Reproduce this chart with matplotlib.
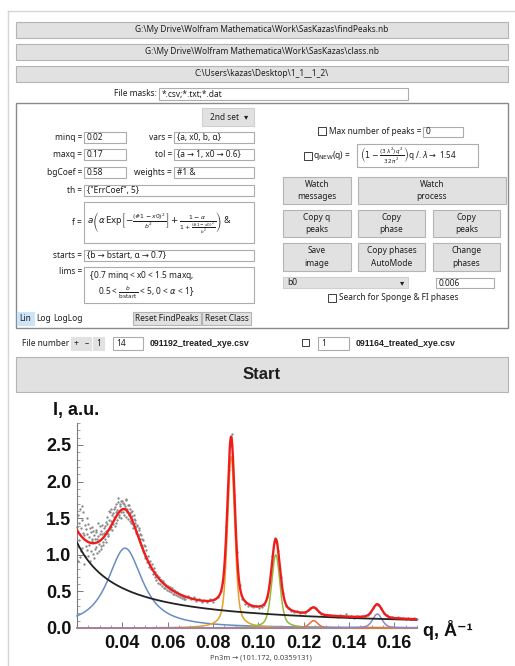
import numpy as np
import matplotlib
matplotlib.use('Agg')
import matplotlib.pyplot as plt
from matplotlib.patches import Rectangle
from matplotlib.ticker import MultipleLocator, FixedLocator

plt.rcParams['mathtext.fontset'] = 'dejavusans'

# ---------------- data ----------------
q_main = [
    0.0202, 0.0206, 0.0210, 0.0214, 0.0218, 0.0222, 0.0226, 0.0230, 0.0234, 0.0238,
    0.0242, 0.0246, 0.0250, 0.0254, 0.0258, 0.0262, 0.0266, 0.0270, 0.0274, 0.0278,
    0.0282, 0.0286, 0.0290, 0.0294, 0.0298, 0.0302, 0.0306, 0.0310, 0.0314, 0.0318,
    0.0322, 0.0326, 0.0330, 0.0334, 0.0338, 0.0342, 0.0346, 0.0350, 0.0354, 0.0358,
    0.0362, 0.0366, 0.0370, 0.0374, 0.0378, 0.0382, 0.0386, 0.0390, 0.0394, 0.0398,
    0.0402, 0.0406, 0.0410, 0.0414, 0.0418, 0.0422, 0.0426, 0.0430, 0.0434, 0.0438,
    0.0442, 0.0446, 0.0450, 0.0454, 0.0458, 0.0462, 0.0466, 0.0470, 0.0474, 0.0478,
    0.0482, 0.0486, 0.0490, 0.0494, 0.0498, 0.0502, 0.0506, 0.0510, 0.0514, 0.0518,
    0.0522, 0.0526, 0.0530, 0.0534, 0.0538, 0.0542, 0.0546, 0.0550, 0.0554, 0.0558,
    0.0562, 0.0566, 0.0570, 0.0574, 0.0578, 0.0582, 0.0586, 0.0590, 0.0594, 0.0598,
    0.0602, 0.0606, 0.0610, 0.0614, 0.0618, 0.0622, 0.0626, 0.0630, 0.0634, 0.0638,
    0.0642, 0.0646, 0.0650, 0.0654, 0.0658, 0.0662, 0.0666, 0.0670, 0.0674, 0.0678,
    0.0690, 0.0702, 0.0714, 0.0726, 0.0738, 0.0750, 0.0762, 0.0774, 0.0786, 0.0798,
    0.0810, 0.0822, 0.0834, 0.0846, 0.0858, 0.0870, 0.0882, 0.0894, 0.0906, 0.0918,
    0.0930, 0.0942, 0.0954, 0.0966, 0.0978, 0.0990, 0.1002, 0.1014, 0.1026, 0.1038,
    0.1050, 0.1062, 0.1074, 0.1086, 0.1098, 0.1110, 0.1122, 0.1134, 0.1146, 0.1158,
    0.1170, 0.1182, 0.1194, 0.1206, 0.1218, 0.1230, 0.1242, 0.1254, 0.1266, 0.1278,
    0.1290, 0.1302, 0.1314, 0.1326, 0.1338, 0.1350, 0.1362, 0.1374, 0.1386, 0.1398,
    0.1410, 0.1422, 0.1434, 0.1446, 0.1458, 0.1470, 0.1482, 0.1494, 0.1506, 0.1518,
    0.1530, 0.1542, 0.1554, 0.1566, 0.1578, 0.1590, 0.1602, 0.1614, 0.1626, 0.1638,
    0.1650, 0.1662, 0.1674, 0.1686, 0.1698,
]
I_main = [
    1.38, 0.92, 1.44, 1.62, 1.05, 1.66, 1.30, 0.88, 1.41, 1.12,
    1.28, 1.50, 0.98, 1.24, 1.36, 1.05, 1.19, 1.33, 0.96, 1.22,
    1.10, 1.31, 1.02, 1.26, 1.15, 1.40, 1.08, 1.29, 1.18, 1.36,
    1.22, 1.45, 1.33, 1.52, 1.26, 1.48, 1.58, 1.38, 1.55, 1.42,
    1.63, 1.40, 1.58, 1.69, 1.47, 1.72, 1.55, 1.66, 1.50, 1.74,
    1.58, 1.70, 1.66, 1.52, 1.75, 1.63, 1.49, 1.68, 1.57, 1.44,
    1.60, 1.42, 1.55, 1.38, 1.47, 1.30, 1.41, 1.25, 1.34, 1.18,
    1.27, 1.10, 1.20, 1.02, 1.12, 0.96, 1.06, 0.90, 0.99, 0.84,
    0.92, 0.80, 0.87, 0.74, 0.82, 0.70, 0.77, 0.66, 0.73, 0.62,
    0.69, 0.60, 0.66, 0.57, 0.64, 0.55, 0.62, 0.54, 0.59, 0.52,
    0.57, 0.51, 0.56, 0.49, 0.54, 0.47, 0.52, 0.46, 0.50, 0.45,
    0.49, 0.44, 0.47, 0.43, 0.45, 0.41, 0.44, 0.40, 0.43, 0.39,
    0.44, 0.39, 0.42, 0.37, 0.40, 0.35, 0.38, 0.35, 0.39, 0.36,
    0.40, 0.43, 0.50, 0.63, 1.38, 2.16, 2.65, 1.82, 1.04, 0.59,
    0.39, 0.33, 0.30, 0.30, 0.29, 0.30, 0.28, 0.29, 0.31, 0.42,
    0.61, 0.98, 1.23, 1.05, 0.70, 0.48, 0.30, 0.27, 0.23, 0.22,
    0.23, 0.20, 0.22, 0.21, 0.24, 0.27, 0.29, 0.27, 0.22, 0.19,
    0.18, 0.17, 0.18, 0.16, 0.17, 0.15, 0.18, 0.16, 0.19, 0.15,
    0.17, 0.14, 0.16, 0.15, 0.17, 0.16, 0.18, 0.21, 0.27, 0.33,
    0.31, 0.28, 0.20, 0.18, 0.14, 0.15, 0.13, 0.15, 0.13, 0.14,
    0.12, 0.14, 0.12, 0.13, 0.12,
]
q_extra = [
    0.0204, 0.0208, 0.0212, 0.0216, 0.0220, 0.0224, 0.0228, 0.0232, 0.0236, 0.0240,
    0.0244, 0.0248, 0.0252, 0.0256, 0.0260, 0.0264, 0.0268, 0.0272, 0.0276, 0.0280,
    0.0284, 0.0288, 0.0292, 0.0296, 0.0300, 0.0304, 0.0308, 0.0312, 0.0316, 0.0320,
    0.0324, 0.0328, 0.0332, 0.0336, 0.0340, 0.0344, 0.0348, 0.0352, 0.0356, 0.0360,
    0.0364, 0.0368, 0.0372, 0.0376, 0.0380, 0.0384, 0.0388, 0.0392, 0.0396, 0.0400,
    0.0404, 0.0408, 0.0412, 0.0416, 0.0420, 0.0424, 0.0428, 0.0432, 0.0436, 0.0440,
    0.0444, 0.0448, 0.0452, 0.0456, 0.0460, 0.0464, 0.0468, 0.0472, 0.0476, 0.0480,
    0.0484, 0.0488, 0.0492, 0.0496, 0.0500,
]
I_extra = [
    1.55, 1.20, 0.97, 1.36, 1.48, 1.09, 1.58, 1.27, 0.99, 1.35,
    1.06, 1.42, 1.14, 0.92, 1.31, 1.21, 1.38, 1.01, 1.27, 1.08,
    1.34, 1.22, 1.44, 1.05, 1.29, 1.12, 1.33, 1.41, 1.14, 1.30,
    1.39, 1.18, 1.42, 1.29, 1.60, 1.35, 1.46, 1.62, 1.34, 1.57,
    1.52, 1.65, 1.44, 1.61, 1.77, 1.52, 1.69, 1.58, 1.73, 1.62,
    1.71, 1.55, 1.64, 1.76, 1.59, 1.68, 1.54, 1.62, 1.46, 1.58,
    1.53, 1.36, 1.49, 1.44, 1.32, 1.39, 1.27, 1.36, 1.22, 1.29,
    1.13, 1.22, 1.05, 1.14, 0.98,
]

# fitted model parameters (pseudo-Voigt f = a(alpha*Exp[-u] + (1-alpha)/(1+u)))
peak_x0 = [0.0412, 0.0880, 0.1077, 0.1244, 0.1525]
peak_a = [1.09, 2.34, 1.00, 0.10, 0.19]
peak_b = [0.0095, 0.0022, 0.0025, 0.0025, 0.0028]
peak_alpha = [0.10, 0.60, 0.60, 0.60, 0.60]
peak_colors = ['#6a8cc2', '#e5a12a', '#96b83a', '#ee6a3c', '#9385c0']
bg_amp = 1.17      # background value at q = minq
bg_exp = 1.1       # power-law exponent

minq, maxq = 0.02, 0.17
x_ticks = [0.04, 0.06, 0.08, 0.10, 0.12, 0.14, 0.16]
y_ticks = [0.0, 0.5, 1.0, 1.5, 2.0, 2.5]

# ---------------- figure ----------------
W, H = 515, 666
fig = plt.figure(figsize=(W / 100, H / 100), dpi=100)
gui = fig.add_axes([0, 0, 1, 1])
gui.set_xlim(0, W)
gui.set_ylim(H, 0)
gui.axis('off')

UI = ['Noto Sans', 'DejaVu Sans']
UIB = ['Liberation Sans', 'DejaVu Sans']
FS = 6.0
TXT = '#1e1e1e'


def rect(x0, y0, x1, y1, fc, ec, lw=0.8, z=1):
    gui.add_patch(Rectangle((x0, y0), x1 - x0, y1 - y0, fc=fc, ec=ec, lw=lw, zorder=z))


def text(x, y, s, ha='left', fs=FS, weight='normal', color=TXT, fam=None, **kw):
    gui.text(x, y, s, ha=ha, va='center', fontsize=fs, family=fam or UI, color=color,
             weight=weight, zorder=5, **kw)


def button(x0, y0, x1, y1, s, fs=FS, weight='normal', fam=None):
    rect(x0, y0, x1, y1, '#e1e1e1', '#b4b4b4')
    text((x0 + x1) / 2, (y0 + y1) / 2, s, ha='center', fs=fs, weight=weight, fam=fam,
         linespacing=1.45, multialignment='center')


def field(x0, y0, x1, y1, s='', fs=FS):
    rect(x0, y0, x1, y1, 'white', '#acacac')
    if s:
        text(x0 + 3, (y0 + y1) / 2, s, fs=fs)


def checkbox(x, y, s=8):
    rect(x, y, x + s, y + s, 'white', '#3c3c3c', lw=0.7)


# outer notebook frame
gui.plot([8, 8], [11, H], color='#d6d6d6', lw=1.0)
gui.plot([8, W], [11, 11], color='#d6d6d6', lw=1.0)

button(16, 22, 508, 38, 'G:\\My Drive\\Wolfram Mathematica\\Work\\SasKazas\\findPeaks.nb')
button(16, 44, 508, 60, 'G:\\My Drive\\Wolfram Mathematica\\Work\\SasKazas\\class.nb')
button(16, 66, 508, 82, 'C:\\Users\\kazas\\Desktop\\1_1__1_2\\')
text(157, 94, 'File masks:', ha='right')
field(159, 88, 408, 100, '*.csv;*.txt;*.dat')

# main panel
rect(16, 103, 508, 328, 'white', '#8a8a8a', lw=1.0, z=0)

# dropdown
rect(202, 108, 254, 126, '#e1e1e1', '#cfcfcf')
text(210, 117, '2nd set')
text(246, 117, '▾', ha='center', fs=6)

rows = [(132, 143, 'minq =', '0.02', 'vars =', '{a, x0, b, α}'),
        (149, 160, 'maxq =', '0.17', 'tol =', '{a → 1, x0 → 0.6}'),
        (167, 178, 'bgCoef =', '0.58', 'weights =', '#1 &')]
for y0, y1, l1, v1, l2, v2 in rows:
    ym = (y0 + y1) / 2
    text(82, ym, l1, ha='right')
    field(84, y0, 126, y1, v1)
    text(172, ym, l2, ha='right')
    field(174, y0, 254, y1, v2)

text(82, 190.5, 'th =', ha='right')
field(84, 185, 254, 196, '{"ErrCoef", 5}')

text(82, 222.5, 'f =', ha='right')
field(84, 202, 254, 243)
gui.text(87, 222.5,
         r'$a\left(\alpha\,\mathrm{Exp}\left[-\frac{(\#1-x0)^2}{b^2}\right]+'
         r'\frac{1-\alpha}{1+\frac{(\#1-x0)^2}{b^2}}\right)$ &',
         ha='left', va='center', fontsize=6.3, color=TXT, family=UI, zorder=5)

text(82, 255.5, 'starts =', ha='right')
field(84, 250, 254, 261, '{b → bstart, α → 0.7}')

text(82, 272, 'lims =', ha='right')
field(84, 267, 254, 303)
gui.text(88, 276, r'$\{$0.7 minq < x0 < 1.5 maxq,', ha='left', va='center',
         fontsize=6.0, color=TXT, family=UI, zorder=5)
gui.text(98, 293, r'0.5 < $\frac{b}{\mathrm{bstart}}$ < 5, 0 < $\alpha$ < 1$\}$',
         ha='left', va='center', fontsize=6.0, color=TXT, family=UI, zorder=5)

rect(16.5, 312, 34, 325, '#cce4f7', '#cce4f7')
text(19, 318.5, 'Lin')
text(36, 318.5, 'Log')
text(53, 318.5, 'LogLog')
button(133, 312, 201, 325, 'Reset FindPeaks')
button(202, 312, 251, 325, 'Reset Class')

# right column of panel
checkbox(318, 127)
text(329, 131.5, 'Max number of peaks =')
field(423, 127, 463, 137, '0')
checkbox(304, 152)
gui.text(313, 156, r'q$_{\mathrm{NEW}}$(q) =', ha='left', va='center', fontsize=FS,
         color=TXT, family=UI, zorder=5)
field(357, 144, 478, 167)
gui.text(360, 155.5,
         r'$\left(1-\frac{(3\,\lambda^2)\,q^2}{32\,\pi^2}\right)$q /. $\lambda\rightarrow$ 1.54',
         ha='left', va='center', fontsize=5.8, color=TXT, family=UI, zorder=5)

button(283, 177, 351, 204, 'Watch\nmessages')
button(358, 177, 506, 204, 'Watch\nprocess')
button(283, 210, 351, 237, 'Copy q\npeaks')
button(358, 210, 425, 237, 'Copy\nphase')
button(433, 210, 500, 237, 'Copy\npeaks')
button(283, 243, 351, 271, 'Save\nimage')
button(358, 243, 425, 271, 'Copy phases\nAutoMode')
button(433, 243, 500, 271, 'Change\nphases')

rect(283, 277, 408, 288, '#e1e1e1', '#cfcfcf')
text(287, 282.5, 'b0')
text(402, 282.5, '▾', ha='center', fs=6)
field(436, 278, 494, 288, '0.006')
checkbox(328, 294)
text(339, 298, 'Search for Sponge & FI phases')

# file-number row
text(22, 343.5, 'File number')
for x0, x1, s in [(71, 81, '+'), (82, 91, '–'), (93, 104, '1')]:
    rect(x0, 337, x1, 350, '#e1e1e1', '#e1e1e1')
    text((x0 + x1) / 2, 343.5, s, ha='center')
field(113, 337, 143, 350, '14')
text(150, 343.5, '091192_treated_xye.csv', weight='bold', fam=UIB, fs=6.3)
checkbox(302, 339, 7)
field(318, 337, 349, 350, '1')
text(356, 343.5, '091164_treated_xye.csv', weight='bold', fam=UIB, fs=6.3)

button(16, 357, 508, 392, 'Start', fs=12, weight='bold', fam=UIB)

# ---------------- chart ----------------
ax = fig.add_axes([77 / W, 38 / H, 340 / W, 205 / H])
ax.patch.set_alpha(0)
ax.set_xlim(minq, maxq)
ax.set_ylim(0, 2.8)
for s in ['top', 'right']:
    ax.spines[s].set_visible(False)
for s in ['left', 'bottom']:
    ax.spines[s].set_color('#7a7a7a')
    ax.spines[s].set_linewidth(0.8)

ax.xaxis.set_major_locator(FixedLocator(x_ticks))
ax.xaxis.set_minor_locator(MultipleLocator(0.005))
ax.yaxis.set_major_locator(FixedLocator(y_ticks))
ax.yaxis.set_minor_locator(MultipleLocator(0.1))
ax.set_xticklabels([f'{v:.2f}' for v in x_ticks])
ax.set_yticklabels([f'{v:.1f}' for v in y_ticks])
ax.tick_params(which='both', direction='in', color='#7a7a7a')
ax.tick_params(which='major', length=4, width=0.7)
ax.tick_params(which='minor', length=2, width=0.5)
ax.tick_params(axis='x', pad=5)
ax.tick_params(axis='y', pad=4)
for lab in ax.get_xticklabels() + ax.get_yticklabels():
    lab.set_fontfamily('Liberation Sans')
    lab.set_fontweight('bold')
    lab.set_fontsize(13)
    lab.set_color('#111111')

ax.plot(q_main, I_main, 'o', ms=1.7, mew=0, color='#8a8a8a', zorder=2, clip_on=False)
ax.plot(q_extra, I_extra, 'o', ms=1.7, mew=0, color='#8a8a8a', zorder=2, clip_on=False)


def f(q, a, x0, b, al):
    u = (q - x0) ** 2 / b ** 2
    return a * (al * np.exp(-u) + (1 - al) / (1 + u))


qq = np.linspace(minq, maxq, 2000)
bg = bg_amp * (qq / minq) ** (-bg_exp)
total = bg.copy()
for x0, a, b, al, c in zip(peak_x0, peak_a, peak_b, peak_alpha, peak_colors):
    comp = f(qq, a, x0, b, al)
    total += comp
    ax.plot(qq, comp, color=c, lw=1.1, zorder=3, clip_on=False)
ax.plot(qq, bg, color='#222222', lw=1.3, zorder=4)
ax.plot(qq, total, color='#f01c1c', lw=1.7, zorder=5)

fig.text(53 / W, 1 - 410 / H, 'I, a.u.', ha='left', va='center', fontsize=13,
         fontweight='bold', family=['Liberation Sans', 'DejaVu Sans'], color='#111')
fig.text(423 / W, 1 - 630 / H, 'q, Å⁻¹', ha='left', va='center', fontsize=13,
         fontweight='bold', family=['Liberation Sans', 'DejaVu Sans'], color='#111')
fig.text(261 / W, 1 - 658 / H, 'Pn3m → (101.172, 0.0359131)', ha='center', va='center',
         fontsize=5.3, family=UI, color='#444')

fig.savefig('out.png', dpi=100)
